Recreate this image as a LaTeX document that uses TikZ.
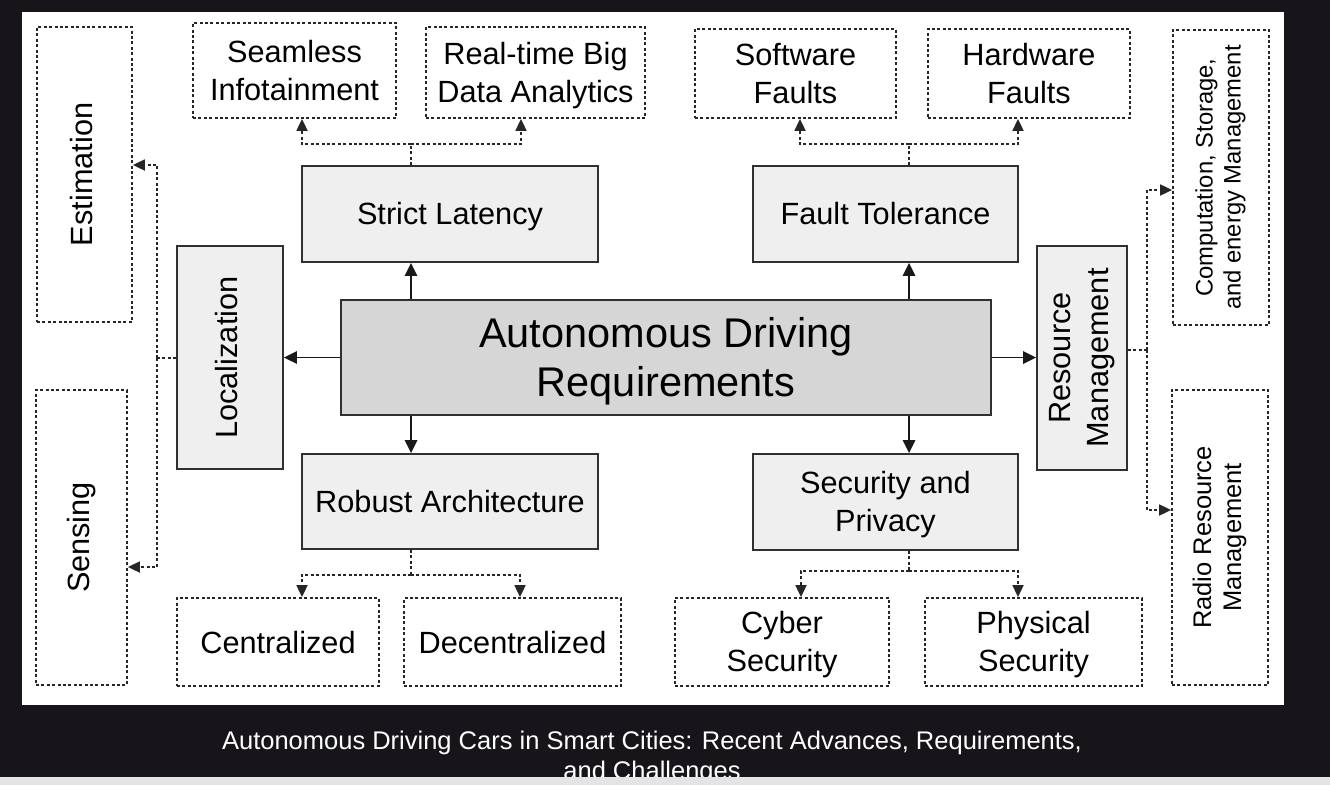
\documentclass[tikz,border=0pt]{standalone}
\usepackage{fontspec}
\usepackage{graphicx}
\setmainfont{Liberation Sans}
\usetikzlibrary{arrows.meta,calc}
\definecolor{bgdark}{HTML}{17141A}
\definecolor{boxfill}{HTML}{EFEFEF}
\definecolor{mainfill}{HTML}{D6D6D6}
\definecolor{edgec}{HTML}{303030}
\definecolor{stripc}{HTML}{E4E4E4}
\newcommand\myboxfont{\fontsize{30.7}{38}\selectfont}
\newcommand\mybigfont{\fontsize{41.5}{49.5}\selectfont}
\newcommand\mysmallfont{\fontsize{23.8}{28}\selectfont}
\newcommand\myradiofont{\fontsize{25.5}{30}\selectfont}
\newcommand\mystrut{\rule[-0.2em]{0pt}{1.116em}}
\newcommand\vtext[1]{\rotatebox{90}{\begin{tabular}{@{}c@{}}#1\end{tabular}}}
\newcommand\twol[2]{\mystrut #1\\#2\mystrut}
\begin{document}
\begin{tikzpicture}[x=1pt,y=-1pt,
  sbox/.style={draw=edgec, fill=boxfill, line width=1.9pt, inner sep=0pt, align=center, font=\myboxfont, text=black},
  mbox/.style={sbox, fill=mainfill, font=\mybigfont},
  dbox/.style={draw=black!85, dash pattern=on 3pt off 2.4pt, line width=1.8pt, inner sep=0pt, align=center, font=\myboxfont, text=black},
  hstrut/.style={execute at begin node=\mystrut, execute at end node=\mystrut},
  conn/.style={line width=1.6pt, draw=black!90, -{Triangle[length=13pt,width=12.5pt]}},
  dconn/.style={line width=1.8pt, draw=black!85, dash pattern=on 3pt off 2.4pt, -{Triangle[length=12pt,width=11pt]}},
  dline/.style={line width=1.8pt, draw=black!85, dash pattern=on 3pt off 2.4pt}
]
\useasboundingbox (0,0) rectangle (1330,785);
\fill[bgdark] (0,0) rectangle (1330,785);
\fill[white] (22,12) rectangle (1284,705);

% main boxes
\node[mbox, minimum width=650pt, minimum height=115pt] (central) at (666,357.5) {\twol{Autonomous Driving}{Requirements}};
\node[sbox, hstrut, minimum width=296pt, minimum height=96pt] (sl) at (450,214) {Strict Latency};
\node[sbox, hstrut, minimum width=296pt, minimum height=95pt] (ra) at (450,501.5) {Robust Architecture};
\node[sbox, hstrut, minimum width=265pt, minimum height=96pt] (ft) at (885.5,214) {Fault Tolerance};
\node[sbox, minimum width=265pt, minimum height=96pt] (sp) at (885.5,502) {\twol{Security and}{Privacy}};
\node[sbox, minimum width=106pt, minimum height=223pt] (loc) at (230,357.5) {\vtext{Localization}};
\node[sbox, minimum width=90pt, minimum height=224pt] (rm) at (1082,358) {\vtext{Resource\\Management}};

% dotted boxes
\node[dbox, minimum width=95pt, minimum height=295pt] (est) at (84.5,174.5) {\vtext{Estimation}};
\node[dbox, minimum width=91pt, minimum height=295pt] (sens) at (81.5,537.5) {\vtext{Sensing}};
\node[dbox, minimum width=203pt, minimum height=95pt] (seam) at (294.5,70.5) {\twol{Seamless}{Infotainment}};
\node[dbox, minimum width=219pt, minimum height=91pt] (rt) at (535.5,72.5) {\twol{Real-time Big}{Data Analytics}};
\node[dbox, minimum width=201pt, minimum height=89pt] (sw) at (795.5,73.5) {\twol{Software}{Faults}};
\node[dbox, minimum width=202pt, minimum height=89pt] (hw) at (1029,73.5) {\twol{Hardware}{Faults}};
\node[dbox, minimum width=96pt, minimum height=295pt, font=\mysmallfont] (comp) at (1221,177.5) {\vtext{Computation, Storage,\\and energy Management}};
\node[dbox, minimum width=96pt, minimum height=295pt, font=\myradiofont] (radio) at (1220,537.5) {\vtext{Radio Resource\\Management}};
\node[dbox, hstrut, minimum width=202pt, minimum height=88pt] (cen) at (278,642) {Centralized};
\node[dbox, hstrut, minimum width=217pt, minimum height=88pt] (dec) at (512.5,642) {Decentralized};
\node[dbox, minimum width=214pt, minimum height=88pt] (cyb) at (782,642) {\twol{Cyber}{Security}};
\node[dbox, minimum width=217pt, minimum height=88pt] (phy) at (1033.5,642) {\twol{Physical}{Security}};

% helper coordinates
\coordinate (xl) at (411,0);
\coordinate (xr) at (909,0);
\coordinate (slj) at (411,144);
\coordinate (ftj) at (909,144);
\coordinate (raj) at (411,575);
\coordinate (spj) at (909,571);
\coordinate (locj) at (157,358.3);
\coordinate (rmj) at (1147,350);
\coordinate (a1) at (302,0);
\coordinate (a2) at (521,0);
\coordinate (a3) at (800,0);
\coordinate (a4) at (1018,0);
\coordinate (a5) at (302,0);
\coordinate (a6) at (520,0);
\coordinate (a7) at (801,0);
\coordinate (a8) at (1018,0);
\coordinate (ye) at (0,165);
\coordinate (ys) at (0,567);
\coordinate (yc) at (0,190);
\coordinate (yr) at (0,510);

% solid connectors
\draw[conn] (xl |- central.north) -- (xl |- sl.south);
\draw[conn] (xl |- central.south) -- (xl |- ra.north);
\draw[conn] (xr |- central.north) -- (xr |- ft.south);
\draw[conn] (xr |- central.south) -- (xr |- sp.north);
\draw[conn] (central.west) -- (central.west -| loc.east);
\draw[conn] (central.east) -- (central.east -| rm.west);

% dashed connectors
\draw[dline] (xl |- sl.north) -- (slj);
\draw[dconn] (slj) -| (a1 |- seam.south);
\draw[dconn] (slj) -| (a2 |- rt.south);
\draw[dline] (xr |- ft.north) -- (ftj);
\draw[dconn] (ftj) -| (a3 |- sw.south);
\draw[dconn] (ftj) -| (a4 |- hw.south);
\draw[dline] (xl |- ra.south) -- (raj);
\draw[dconn] (raj) -| (a5 |- cen.north);
\draw[dconn] (raj) -| (a6 |- dec.north);
\draw[dline] (xr |- sp.south) -- (spj);
\draw[dconn] (spj) -| (a7 |- cyb.north);
\draw[dconn] (spj) -| (a8 |- phy.north);
\draw[dline] (locj -| loc.west) -- (locj);
\draw[dconn] (locj) |- (est.east |- ye);
\draw[dconn] (locj) |- (sens.east |- ys);
\draw[dline] (rmj -| rm.east) -- (rmj);
\draw[dconn] (rmj) |- (comp.west |- yc);
\draw[dconn] (rmj) |- (radio.west |- yr);

% caption
\node[text=white, font=\fontsize{25.5}{30}\selectfont, anchor=base] (cap1) at (652,749) {Autonomous Driving Cars in Smart Cities: Recent Advances, Requirements,};
\node[text=white, font=\fontsize{25.5}{30}\selectfont, anchor=base] (cap2) at (652,779) {and Challenges};
\fill[stripc] (0,777) rectangle (1330,785);
\end{tikzpicture}
\end{document}
